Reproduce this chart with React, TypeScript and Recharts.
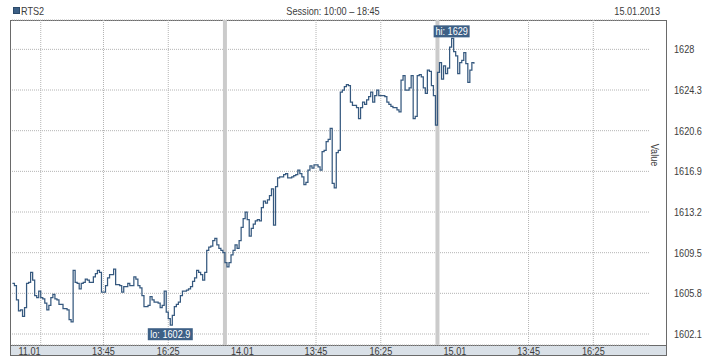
import React from 'react';
import { LineChart, Line, XAxis, YAxis, CartesianGrid, ReferenceLine } from 'recharts';

const dayLabels = ['11.01', '14.01', '15.01'];
const timeTickLabels = ['13:45', '16:25'];
const timeTickMinutes = [225, 385];
const sessionMinutes = 525;
const stepMinutes = 5;
const extraGridMinutes = [70];
const yTicks = [1602.1, 1605.8, 1609.5, 1613.2, 1616.9, 1620.6, 1624.3, 1628];
const yDomain = [1601.1, 1630.67];

const day1Values = [
  1606.7, 1606.5, 1605.2, 1604.2, 1604.3, 1603.7, 1604.5, 1606.7, 1606.8, 1607.7,
  1607.0, 1605.6, 1605.4, 1606.0, 1605.4, 1605.3, 1604.9, 1604.3, 1604.7, 1605.4,
  1605.7, 1605.3, 1605.2, 1604.8, 1604.8, 1604.4, 1604.4, 1604.3, 1603.4, 1603.2,
  1607.9, 1606.8, 1606.7, 1606.2, 1606.7, 1606.8, 1607.1, 1607.0, 1606.8, 1606.8,
  1607.3, 1607.6, 1607.9, 1607.7, 1605.9, 1605.9, 1606.5, 1607.2, 1607.5, 1607.5,
  1608.0, 1606.6, 1606.6, 1606.5, 1605.9, 1606.4, 1606.4, 1606.7, 1606.5, 1606.5,
  1607.3, 1607.1, 1606.5, 1606.3, 1605.6, 1604.6, 1604.6, 1604.7, 1605.5, 1605.2,
  1605.0, 1605.0, 1604.9, 1604.5, 1604.7, 1606.0, 1604.1, 1603.5, 1602.9, 1603.8,
  1604.6, 1604.8, 1605.0, 1605.6, 1606.0, 1606.0, 1606.1, 1606.2, 1606.4, 1606.9,
  1607.2, 1607.9, 1607.7, 1607.5, 1607.0, 1607.7, 1609.7, 1610.0, 1610.1, 1610.6,
  1610.8, 1610.2, 1609.9, 1609.7, 1609.5, 1609.0,
];

const day2Values = [
  1608.6, 1608.2, 1608.6, 1609.3, 1609.7, 1610.2, 1609.9, 1610.6, 1611.8, 1612.6,
  1613.2, 1612.5, 1611.0, 1611.7, 1612.1, 1612.4, 1612.5, 1612.4, 1613.6, 1614.2,
  1614.0, 1614.3, 1614.7, 1615.3, 1612.0, 1615.5, 1616.3, 1616.4, 1616.4, 1616.6,
  1616.7, 1616.3, 1616.3, 1616.4, 1616.5, 1616.6, 1617.0, 1616.7, 1616.4, 1615.7,
  1615.9, 1617.0, 1617.4, 1617.2, 1617.5, 1617.5, 1617.3, 1617.0, 1618.7, 1618.8,
  1619.6, 1619.8, 1620.8, 1615.8, 1615.4, 1618.6, 1618.8, 1624.1, 1624.3, 1624.6,
  1624.8, 1624.7, 1623.2, 1622.9, 1622.9, 1622.7, 1621.7, 1622.7, 1623.2, 1623.0,
  1623.4, 1623.7, 1624.1, 1623.2, 1623.8, 1624.3, 1623.8, 1623.8, 1623.8, 1623.7,
  1623.2, 1623.0, 1622.8, 1622.7, 1622.7, 1622.5, 1622.3, 1625.2, 1625.6, 1624.3,
  1624.3, 1624.5, 1625.6, 1621.7, 1621.9, 1625.6, 1625.7, 1625.5, 1624.5, 1624.0,
  1626.1, 1626.0, 1624.7, 1623.8, 1621.1, 1624.7,
];

const day3Values = [
  1625.9, 1626.8, 1625.3, 1626.5, 1625.8, 1626.3, 1628.2, 1629.0, 1627.8, 1627.4,
  1625.8, 1626.8, 1627.0, 1627.7, 1626.7, 1625.0, 1626.1, 1626.8, 1626.7,
];

const days = [day1Values, day2Values, day3Values];
const data = days.flatMap((vals, d) =>
  vals.map((v, i) => ({ t: d * sessionMinutes + i * stepMinutes, v }))
);

let maxIdx = 0;
let minIdx = 0;
data.forEach((p, i) => {
  if (p.v > data[maxIdx].v) maxIdx = i;
  if (p.v < data[minIdx].v) minIdx = i;
});

const dayStarts = dayLabels.map((_, d) => d * sessionMinutes);
const xTicks: number[] = [];
dayStarts.forEach((s) => {
  xTicks.push(s);
  timeTickMinutes.forEach((m) => xTicks.push(s + m));
});
const gridMinutes = [
  ...extraGridMinutes,
  ...dayStarts.flatMap((s) => timeTickMinutes.map((m) => s + m)),
];
const separatorMinutes = dayStarts.slice(1);

const FONT = '"Liberation Sans", Arial, sans-serif';
const TEXT = '#3c3c3c';
const LINE = '#36597f';
const GRID = '#b4b4b4';
const SX = 0.83;

type NTextProps = {
  x: number;
  y: number;
  anchor?: 'start' | 'middle' | 'end';
  fill?: string;
  rotate?: number;
  children: React.ReactNode;
};

const NText = ({ x, y, anchor = 'start', fill = TEXT, rotate = 0, children }: NTextProps) => (
  <text
    x={0}
    y={0}
    transform={`translate(${x} ${y})${rotate ? ` rotate(${rotate})` : ''} scale(${SX} 1)`}
    textAnchor={anchor}
    fontFamily={FONT}
    fontSize={11}
    fill={fill}
  >
    {children}
  </text>
);

const xLabel = (v: number) => {
  const d = Math.floor(v / sessionMinutes);
  const m = v - d * sessionMinutes;
  if (m === 0) return dayLabels[d];
  const k = timeTickMinutes.indexOf(m);
  return k >= 0 ? timeTickLabels[k] : '';
};

const XTick = (props: any) => {
  const { x, payload } = props;
  const v = payload.value as number;
  const isDay = v % sessionMinutes === 0;
  return (
    <NText x={isDay ? x + 6 : x} y={355} anchor={isDay ? 'start' : 'middle'}>
      {xLabel(v)}
    </NText>
  );
};

const YTick = (props: any) => {
  const { y, payload } = props;
  return (
    <NText x={674} y={y + 4}>
      {String(payload.value)}
    </NText>
  );
};

const ExtremeDot = (props: any) => {
  const { cx, cy, index, payload } = props;
  if (index !== maxIdx && index !== minIdx) return <g key={`d${index}`} />;
  const isMax = index === maxIdx;
  const label = isMax ? `hi: ${payload.v}` : `lo: ${payload.v}`;
  const w = label.length * 4.5;
  const h = 12;
  const top = isMax ? cy - h - 1 : cy + 3;
  return (
    <g key={`d${index}`}>
      <rect x={cx - w / 2} y={top} width={w} height={h} fill="#3d6086" />
      <NText x={cx} y={top + 10} anchor="middle" fill="#ffffff">
        {label}
      </NText>
    </g>
  );
};

export default function App() {
  return (
    <div style={{ position: 'absolute', left: 0, top: 0, width: 718, height: 360 }}>
      <svg width={718} height={360} style={{ position: 'absolute', left: 0, top: 0 }}>
        <rect x={0} y={0} width={718} height={360} fill="#ffffff" />
        <rect x={10} y={345} width={657} height={11} fill="#d9e0e7" />
        <line x1={10} y1={345.5} x2={667} y2={345.5} stroke="#6a6a6a" />
        <rect x={10.5} y={20.5} width={656} height={335} fill="none" stroke="#6a6a6a" />
        <rect x={13.5} y={7.5} width={6} height={6} fill="#3d6086" stroke="#2c4a6a" />
        <NText x={21} y={15}>RTS2</NText>
        <NText x={333} y={15} anchor="middle">Session: 10:00 – 18:45</NText>
        <NText x={660} y={15} anchor="end">15.01.2013</NText>
        <NText x={651} y={155} anchor="middle" rotate={90}>Value</NText>
      </svg>
      <div style={{ position: 'absolute', left: 0, top: 0 }}>
        <LineChart
          width={718}
          height={360}
          data={data}
          margin={{ top: 20, right: 0, bottom: 0, left: 12 }}
        >
          <CartesianGrid vertical={false} stroke={GRID} strokeDasharray="1 1" />
          {gridMinutes.map((m) => (
            <ReferenceLine key={`g${m}`} x={m} stroke={GRID} strokeDasharray="1 1" />
          ))}
          {separatorMinutes.map((m) => (
            <ReferenceLine key={`s${m}`} x={m} stroke="#cbcbcb" strokeWidth={4} />
          ))}
          <XAxis
            dataKey="t"
            type="number"
            domain={[-1, 1575]}
            ticks={xTicks}
            allowDataOverflow
            height={15}
            axisLine={false}
            tickLine={false}
            tick={<XTick />}
            interval={0}
          />
          <YAxis
            orientation="right"
            type="number"
            domain={yDomain}
            ticks={yTicks}
            allowDataOverflow
            width={68}
            axisLine={false}
            tickLine={false}
            tick={<YTick />}
            interval={0}
          />
          <Line
            type="stepAfter"
            dataKey="v"
            stroke={LINE}
            strokeWidth={1.25}
            dot={ExtremeDot}
            activeDot={false}
            isAnimationActive={false}
          />
        </LineChart>
      </div>
    </div>
  );
}
